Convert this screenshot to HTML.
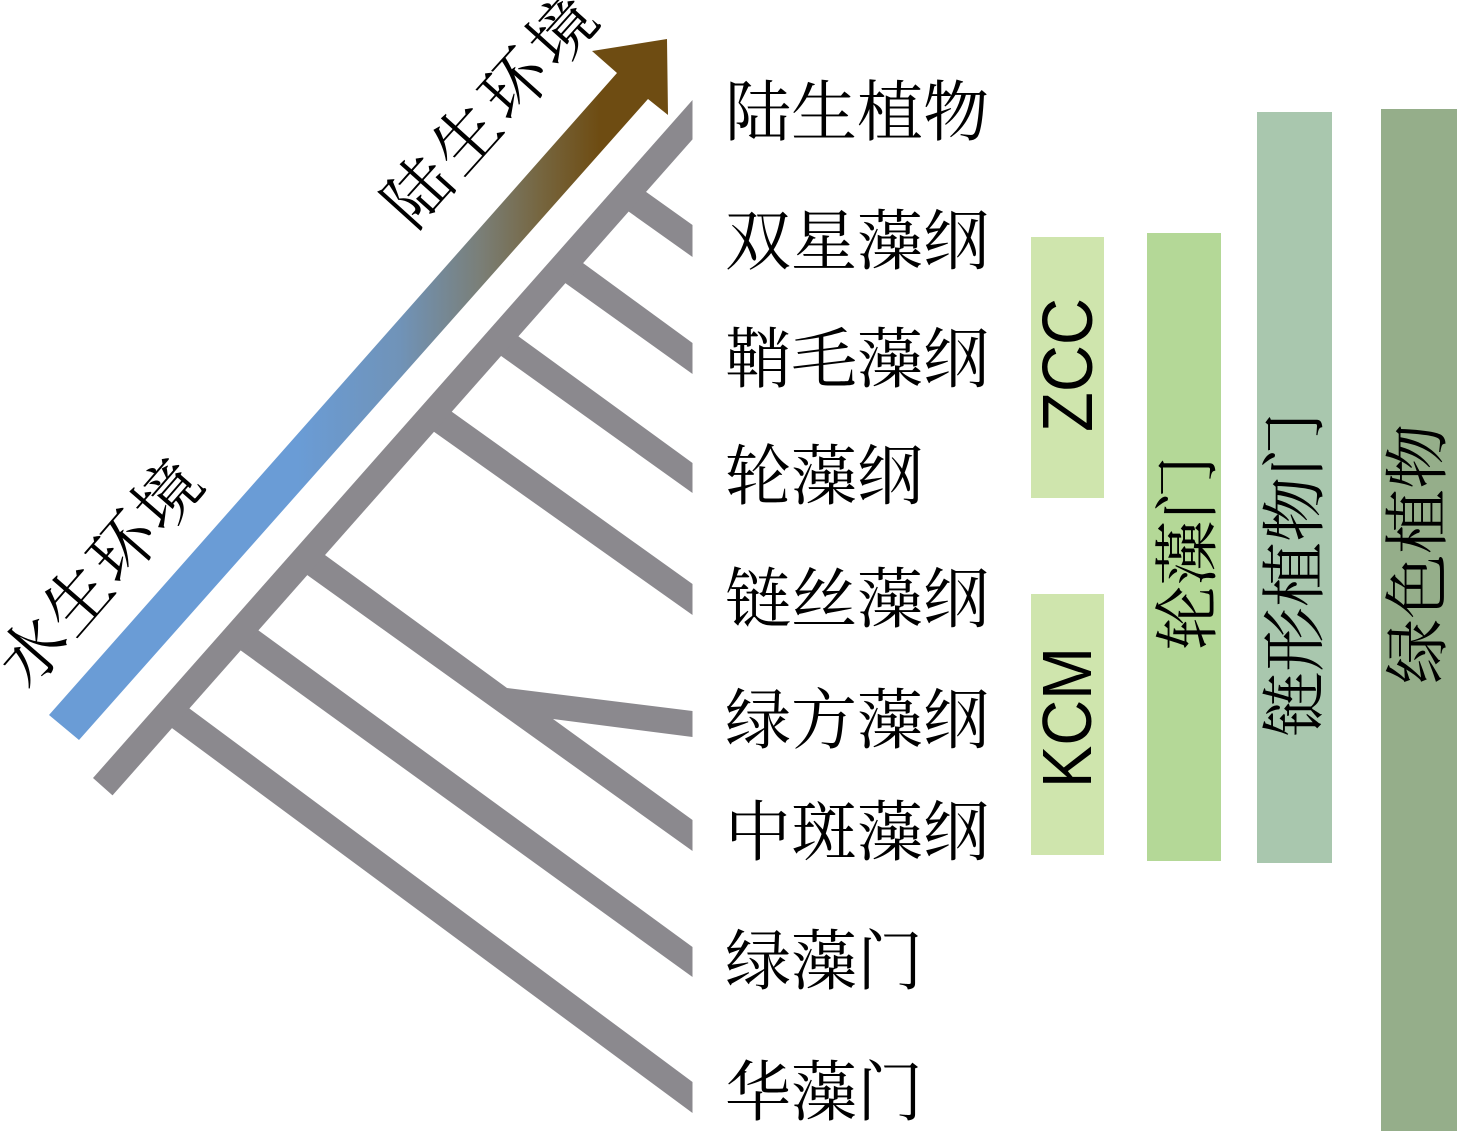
<!DOCTYPE html>
<html>
<head>
<meta charset="utf-8">
<style>
  html, body { margin: 0; padding: 0; background: #ffffff; }
  body { width: 1457px; height: 1131px; overflow: hidden; }
  svg { display: block; }
  .cjk { font-family: "Liberation Serif", "Noto Serif CJK SC", serif; fill: #000; }
  .lat { font-family: "Liberation Sans", "Noto Sans CJK SC", sans-serif; fill: #000; }
</style>
</head>
<body>
<svg width="1457" height="1131" viewBox="0 0 1457 1131" xmlns="http://www.w3.org/2000/svg">
  <defs>
    <linearGradient id="arrowGrad" gradientUnits="userSpaceOnUse" x1="49" y1="400" x2="668" y2="400">
      <stop offset="0" stop-color="#6a9cd6"/>
      <stop offset="0.40" stop-color="#6a9cd6"/>
      <stop offset="0.567" stop-color="#7093b8"/>
      <stop offset="0.696" stop-color="#7a7f78"/>
      <stop offset="0.793" stop-color="#766640"/>
      <stop offset="0.89" stop-color="#6e4c12"/>
      <stop offset="1" stop-color="#6e4c12"/>
    </linearGradient>
  </defs>

  <!-- Gradient arrow -->
  <polygon points="49,715 617,73 592,51 667,39 668,115 648,99 79,740" fill="url(#arrowGrad)"/>

  <!-- Branches -->
  <g fill="#8b898e">
    <polygon points="635,184 692.5,225 692.5,257 618,204"/>
    <polygon points="572,255 692.5,343 692.5,374 554,275"/>
    <polygon points="507,328 692.5,463 692.5,493 490,348"/>
    <polygon points="441,404 692.5,584 692.5,615 423,424"/>
    <polygon points="314,547 507,688 692.5,711 692.5,737 553,719 692.5,820 692.5,851 296,567"/>
    <polygon points="247,622 692.5,947 692.5,977 229,642"/>
    <polygon points="178,700 692.5,1082 692.5,1113 161,720"/>
    <!-- Trunk -->
    <polygon points="93,778 692.5,100 692.5,139.4 112.5,795.4"/>
  </g>

  <!-- Diagonal environment labels -->
  <text class="cjk" x="489" y="135" font-size="66" text-anchor="middle" textLength="282" lengthAdjust="spacing" transform="rotate(-48 489 110)">陆生环境</text>
  <text class="cjk" x="99" y="597" font-size="66" text-anchor="middle" textLength="272" lengthAdjust="spacing" transform="rotate(-49 99 572)">水生环境</text>

  <!-- Taxon labels -->
  <g class="cjk" font-size="66">
    <text x="725" y="135">陆生植物</text>
    <text x="725" y="264">双星藻纲</text>
    <text x="725" y="382">鞘毛藻纲</text>
    <text x="725" y="499">轮藻纲</text>
    <text x="725" y="622">链丝藻纲</text>
    <text x="725" y="743">绿方藻纲</text>
    <text x="725" y="855">中斑藻纲</text>
    <text x="725" y="984">绿藻门</text>
    <text x="725" y="1115">华藻门</text>
  </g>

  <!-- Bars -->
  <rect x="1031" y="237" width="73" height="261" fill="#cfe5ad"/>
  <rect x="1031" y="594" width="73" height="261" fill="#cfe5ad"/>
  <rect x="1147" y="233" width="74" height="628" fill="#b4d897"/>
  <rect x="1257" y="112" width="75" height="751" fill="#a9c7ae"/>
  <rect x="1381" y="109" width="76" height="1022" fill="#95ae8a"/>

  <!-- Bar labels -->
  <text class="lat" x="1066.5" y="390.5" font-size="71" text-anchor="middle" textLength="134" lengthAdjust="spacingAndGlyphs" transform="rotate(-90 1066.5 365)">ZCC</text>
  <text class="lat" x="1066" y="742.5" font-size="70" text-anchor="middle" textLength="141" lengthAdjust="spacingAndGlyphs" transform="rotate(-90 1066 717.5)">KCM</text>

  <text class="cjk" x="1185" y="578" font-size="65" text-anchor="middle" transform="rotate(-90 1185 553)">轮藻门</text>
  <text class="cjk" x="1292" y="599.5" font-size="65" text-anchor="middle" transform="rotate(-90 1292 574.5)">链形植物门</text>
  <text class="cjk" x="1415" y="579" font-size="65" text-anchor="middle" transform="rotate(-90 1415 554)">绿色植物</text>
</svg>
</body>
</html>
